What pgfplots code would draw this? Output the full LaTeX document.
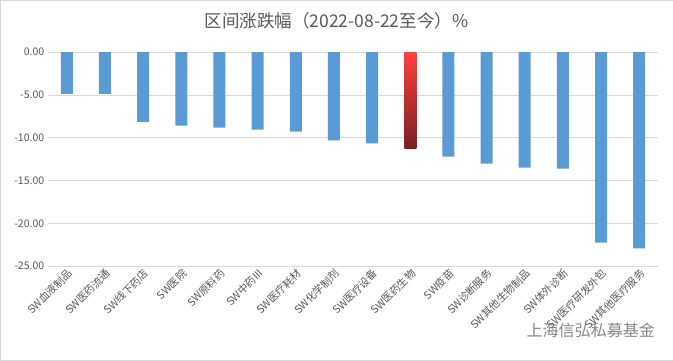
\documentclass[border=0pt]{standalone}
\usepackage{pgfplots}
\pgfplotsset{compat=1.18}
\usepackage{fontspec}
\setmainfont{Noto Sans CJK SC}
\definecolor{txt}{HTML}{595959}
\definecolor{barblue}{HTML}{5B9BD5}
\definecolor{gridc}{HTML}{D9D9D9}
\begin{document}
\begin{tikzpicture}[x=1pt,y=1pt]
\draw[draw=gridc, fill=white] (0.5,0.5) rectangle (672.5,360.5);
\node[text=txt, font=\fontsize{17.5}{20}\selectfont] at (336.5,340) {区间涨跌幅（2022-08-22至今）\%};
\begin{axis}[
  at={(48pt,94.7pt)}, anchor=south west,
  scale only axis, width=610pt, height=213.8pt,
  xmin=-0.5, xmax=15.5, ymin=-25, ymax=0,
  ytick={-25,-20,-15,-10,-5,0},
  ymajorgrids, major grid style={draw=gridc, line width=0.8pt},
  axis line style={draw=none},
  tick style={draw=none},
  yticklabel style={text=txt, font=\fontsize{10.5}{12}\selectfont, /pgf/number format/.cd, fixed, fixed zerofill, precision=2, assume math mode=true},
  xtick={0,...,15},
  xticklabels={SW血液制品,SW医药流通,SW线下药店,SW医院,SW原料药,SW中药III,SW医疗耗材,SW化学制剂,SW医疗设备,SW医药生物,SW疫苗,SW诊断服务,SW其他生物制品,SW体外诊断,SW医疗研发外包,SW其他医疗服务},
  xticklabel style={text=txt, font=\fontsize{10.5}{12}\selectfont, rotate=45, anchor=north east, inner sep=1pt},
  clip=false,
]
\addplot[ybar, bar width=12pt, bar shift=0pt, fill=barblue, draw=none] coordinates {
(0,-4.85) (1,-4.85) (2,-8.13) (3,-8.56) (4,-8.80) (5,-9.03) (6,-9.26) (7,-10.31) (8,-10.66)
(10,-12.19) (11,-13.00) (12,-13.47) (13,-13.59) (14,-22.24) (15,-22.90)};
\addplot[ybar, bar width=12pt, bar shift=0pt, draw=none, top color={rgb,255:red,255;green,64;blue,64}, bottom color={rgb,255:red,120;green,32;blue,32}] coordinates {(9,-11.25)};
\end{axis}
\node[text=black!55, opacity=0.85, font=\fontsize{16}{19}\selectfont, anchor=west] at (523,31) {上海信弘私募基金};
\end{tikzpicture}
\end{document}
